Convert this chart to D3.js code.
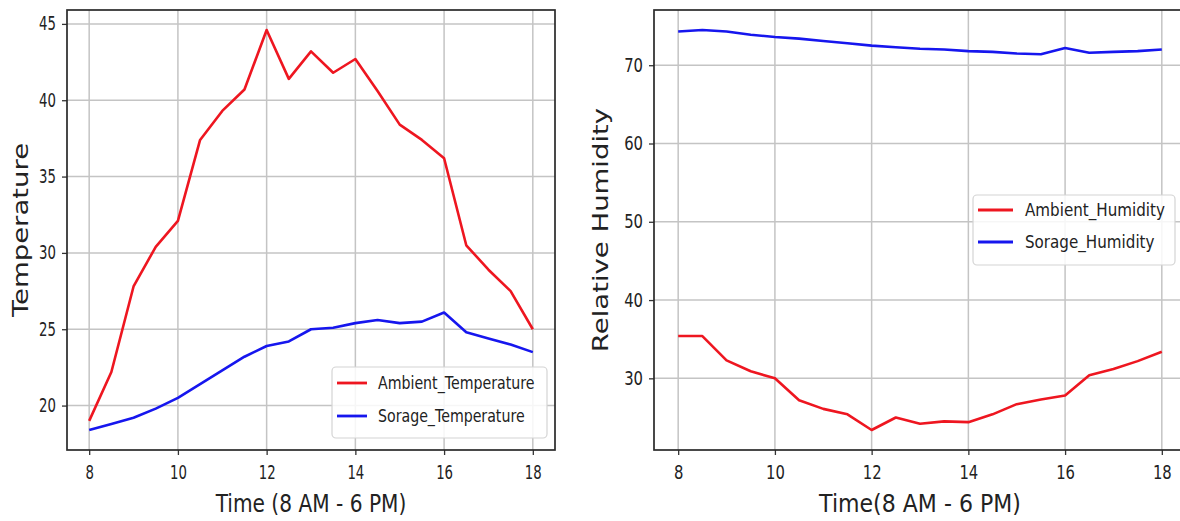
<!DOCTYPE html>
<html>
<head>
<meta charset="utf-8">
<script src="https://cdn.jsdelivr.net/npm/d3@7/dist/d3.min.js"></script>
<style>
  html, body { margin: 0; padding: 0; background: #fff; }
  svg { display: block; }
  text { font-family: "DejaVu Sans", "Liberation Sans", sans-serif; fill: #222; }
</style>
</head>
<body>
<svg id="chart" width="1180" height="521"></svg>
<script>
// Half-hourly readings, 8 AM to 6 PM
const hours = [8, 8.5, 9, 9.5, 10, 10.5, 11, 11.5, 12, 12.5, 13, 13.5, 14, 14.5, 15, 15.5, 16, 16.5, 17, 17.5, 18];

const ambientTemperature = [19.0, 22.2, 27.8, 30.4, 32.1, 37.4, 39.3, 40.7, 44.6, 41.4, 43.2, 41.8, 42.7, 40.6, 38.4, 37.4, 36.2, 30.5, 28.9, 27.5, 25.0];
const storageTemperature = [18.4, 18.8, 19.2, 19.8, 20.5, 21.4, 22.3, 23.2, 23.9, 24.2, 25.0, 25.1, 25.4, 25.6, 25.4, 25.5, 26.1, 24.8, 24.4, 24.0, 23.5];

const ambientHumidity = [35.4, 35.4, 32.3, 30.9, 30.0, 27.2, 26.1, 25.4, 23.4, 25.0, 24.2, 24.5, 24.4, 25.4, 26.7, 27.3, 27.8, 30.4, 31.2, 32.2, 33.4];
const storageHumidity = [74.3, 74.5, 74.3, 73.9, 73.6, 73.4, 73.1, 72.8, 72.5, 72.3, 72.1, 72.0, 71.8, 71.7, 71.5, 71.4, 72.2, 71.6, 71.7, 71.8, 72.0];

const timeTicks = [8, 10, 12, 14, 16, 18];
const temperatureTicks = [20, 25, 30, 35, 40, 45];
const humidityTicks = [30, 40, 50, 60, 70];

const RED = "#ee1620";
const BLUE = "#1616ee";

const svg = d3.select("#chart");

// Pad a data extent by 5% on each side, like the default plot margins
function padded(values) {
  const [lo, hi] = d3.extent(values);
  const m = (hi - lo) * 0.05;
  return [lo - m, hi + m];
}

function drawPanel(cfg) {
  const { left, top, right, bottom } = cfg.box;
  const w = right - left, h = bottom - top;

  const x = d3.scaleLinear().domain([7.5, 18.5]).range([0, w]);
  const y = d3.scaleLinear().domain(padded(cfg.series.flatMap(s => s.values))).range([h, 0]);

  const g = svg.append("g").attr("transform", `translate(${left},${top})`);

  // grid
  g.append("g").selectAll("line").data(cfg.xTicks).join("line")
    .attr("x1", d => x(d)).attr("x2", d => x(d)).attr("y1", 0).attr("y2", h)
    .attr("stroke", "#c4c4c4").attr("stroke-width", 1.5);
  g.append("g").selectAll("line").data(cfg.yTicks).join("line")
    .attr("x1", 0).attr("x2", w).attr("y1", d => y(d)).attr("y2", d => y(d))
    .attr("stroke", "#c4c4c4").attr("stroke-width", 1.5);

  // series
  const line = d3.line().x((d, i) => x(cfg.xs[i])).y(d => y(d));
  cfg.series.forEach(s => {
    g.append("path").datum(s.values)
      .attr("d", line)
      .attr("fill", "none")
      .attr("stroke", s.color)
      .attr("stroke-width", 2.6)
      .attr("stroke-linejoin", "round");
  });

  // axes
  const xAxis = g.append("g").attr("transform", `translate(0,${h})`)
    .call(d3.axisBottom(x).tickValues(cfg.xTicks).tickSize(5).tickPadding(11).tickFormat(d3.format("d")));
  const yAxis = g.append("g")
    .call(d3.axisLeft(y).tickValues(cfg.yTicks).tickSize(5).tickPadding(6).tickFormat(d3.format("d")));
  [xAxis, yAxis].forEach(a => {
    a.select(".domain").remove();
    a.selectAll(".tick line").attr("stroke", "#333").attr("stroke-width", 1.3);
    a.selectAll(".tick text").attr("font-size", 19).attr("fill", "#2a2a2a")
      .attr("font-family", "DejaVu Sans");
  });
  xAxis.selectAll(".tick text").attr("transform", `scale(${cfg.tickSqueeze},1)`);
  yAxis.selectAll(".tick text")
    .attr("x", -11 / cfg.tickSqueeze)
    .attr("transform", `scale(${cfg.tickSqueeze},1)`);

  // frame
  g.append("rect").attr("x", 0).attr("y", 0).attr("width", w).attr("height", h)
    .attr("fill", "none").attr("stroke", "#2a2a2a").attr("stroke-width", 1.7);

  // axis titles
  svg.append("text")
    .attr("text-anchor", "middle")
    .attr("font-size", 24)
    .attr("transform", `translate(${left + w / 2},${bottom + 62}) scale(${cfg.labelSqueeze},1)`)
    .text(cfg.xLabel);
  svg.append("text")
    .attr("text-anchor", "middle")
    .attr("font-size", 27.5)
    .attr("transform", `translate(${cfg.yLabelX},${top + h / 2}) rotate(-90) scale(1,0.78)`)
    .text(cfg.yLabel);

  // legend
  const L = cfg.legend;
  const lg = svg.append("g");
  lg.append("rect").attr("x", L.x).attr("y", L.y).attr("width", L.w).attr("height", L.h)
    .attr("rx", 4).attr("fill", "#fff").attr("fill-opacity", 0.85)
    .attr("stroke", "#d4d4d4").attr("stroke-width", 1.2);
  cfg.series.forEach((s, i) => {
    const cy = L.y + L.row0 + i * L.rowGap;
    lg.append("line")
      .attr("x1", L.x + 5).attr("x2", L.x + 5 + L.sample)
      .attr("y1", cy).attr("y2", cy)
      .attr("stroke", s.color).attr("stroke-width", 2.8);
    lg.append("text")
      .attr("font-size", 17.5)
      .attr("dy", "0.36em")
      .attr("transform", `translate(${L.x + L.textDx},${cy}) scale(${L.squeeze},1)`)
      .text(s.name);
  });
}

drawPanel({
  box: { left: 67, top: 10, right: 555, bottom: 450 },
  xs: hours,
  series: [
    { name: "Ambient_Temperature", values: ambientTemperature, color: RED },
    { name: "Sorage_Temperature", values: storageTemperature, color: BLUE }
  ],
  xTicks: timeTicks,
  yTicks: temperatureTicks,
  xLabel: "Time (8 AM - 6 PM)",
  yLabel: "Temperature",
  yLabelX: 28,
  tickSqueeze: 0.7,
  labelSqueeze: 0.84,
  legend: { x: 332, y: 367, w: 215, h: 71, row0: 16, rowGap: 33, sample: 30, textDx: 46, squeeze: 0.81 }
});

drawPanel({
  box: { left: 654, top: 10, right: 1186, bottom: 450 },
  xs: hours,
  series: [
    { name: "Ambient_Humidity", values: ambientHumidity, color: RED },
    { name: "Sorage_Humidity", values: storageHumidity, color: BLUE }
  ],
  xTicks: timeTicks,
  yTicks: humidityTicks,
  xLabel: "Time(8 AM - 6 PM)",
  yLabel: "Relative Humidity",
  yLabelX: 608,
  tickSqueeze: 0.78,
  labelSqueeze: 0.92,
  legend: { x: 973, y: 195, w: 202, h: 70, row0: 15, rowGap: 32, sample: 35, textDx: 52, squeeze: 0.865 }
});
</script>
</body>
</html>
